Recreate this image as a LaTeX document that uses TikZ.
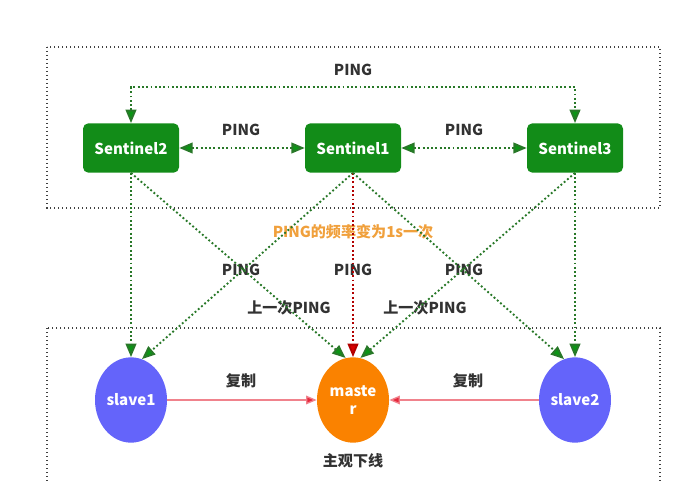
\documentclass[tikz,border=0pt]{standalone}
\usepackage{fontspec}
\setmainfont{Noto Sans CJK SC}
\usepackage{xcolor}
\usetikzlibrary{arrows.meta, shapes.geometric}

\definecolor{sentgreen}{RGB}{18,140,24}
\definecolor{pinggreen}{RGB}{40,120,40}
\definecolor{tipgreen}{RGB}{10,150,20}
\definecolor{slaveblue}{RGB}{100,100,250}
\definecolor{masterorange}{RGB}{250,130,0}
\definecolor{notecolor}{RGB}{240,160,60}
\definecolor{copyline}{RGB}{240,130,140}
\definecolor{copytip}{RGB}{230,40,60}
\definecolor{labelgray}{RGB}{50,50,50}

\begin{document}
\begin{tikzpicture}[x=0.75pt, y=-0.75pt,
  every node/.style={font=\bfseries\fontsize{11.3}{13.5}\selectfont, text=labelgray},
  sentinel/.style={draw=none, fill=sentgreen, rounded corners=4pt, text=white,
    minimum width=72pt, minimum height=37pt, inner sep=0pt},
  server/.style={ellipse, draw=none, text=white, minimum width=54pt,
    minimum height=64pt, inner sep=0pt, align=center},
  frame/.style={draw=black!75, line width=1pt, dash pattern=on 1pt off 2pt},
  ping/.style={draw=pinggreen, line width=1.4pt, dash pattern=on 1.4pt off 1.8pt,
    >={Triangle[length=10pt, width=8pt, fill=tipgreen]}},
  offline/.style={ping, draw=red!70!black, >={Triangle[length=10pt, width=8pt, fill=red!85!black]}},
  copy/.style={draw=copyline, line width=1pt, ->,
    >={Triangle[length=8pt, width=6.5pt, fill=copytip]}},
  note/.style={text=notecolor}]
  \useasboundingbox (0,0) rectangle (692,481);

  % dotted frames
  \draw[frame] (47,47) rectangle (660,208);
  \draw[frame] (47,328) rectangle (660,500);

  % sentinels
  \node[sentinel] (s2) at (131,148) {Sentinel2};
  \node[sentinel] (s1) at (353,148) {Sentinel1};
  \node[sentinel] (s3) at (575,148) {Sentinel3};

  % redis servers
  \node[server, fill=slaveblue] (slave1) at (131,400) {slave1};
  \node[server, fill=masterorange] (master) at (353,400) {maste\\r};
  \node[server, fill=slaveblue] (slave2) at (575,400) {slave2};

  % labels
  \node (pingtop) at (353,70) {PING};
  \node (ping21) at (241,130) {PING};
  \node (ping13) at (464,130) {PING};
  \node[note] (freq) at (353,232) {PING的频率变为1s一次};
  \node (pingl) at (241,270) {PING};
  \node (pingm) at (353,270) {PING};
  \node (pingr) at (464,270) {PING};
  \node (lastl) at (289,308) {上一次PING};
  \node (lastr) at (425,308) {上一次PING};
  \node (copyl) at (241,381) {复制};
  \node (copyr) at (468,381) {复制};
  \node (down) at (353,461) {主观下线};

  % sentinels ping each other
  \draw[ping, <->] (s2.north) -- ++(0,-36) -| (s3.north);
  \draw[ping, <->] (s2.east) -- (s1.west);
  \draw[ping, <->] (s1.east) -- (s3.west);

  % sentinels ping the servers
  \draw[ping, ->] (s2.south) -- (slave1.north);
  \draw[ping, ->] (s2.south) -- (master.100);
  \draw[ping, ->] (s1.south) -- (slave1.75);
  \draw[offline, ->] (s1.south) -- (master.north);
  \draw[ping, ->] (s1.south) -- (slave2.105);
  \draw[ping, ->] (s3.south) -- (master.80);
  \draw[ping, ->] (s3.south) -- (slave2.north);

  % replication
  \draw[copy] (slave1.east) -- (master.west);
  \draw[copy] (slave2.west) -- (master.east);
\end{tikzpicture}
\end{document}
